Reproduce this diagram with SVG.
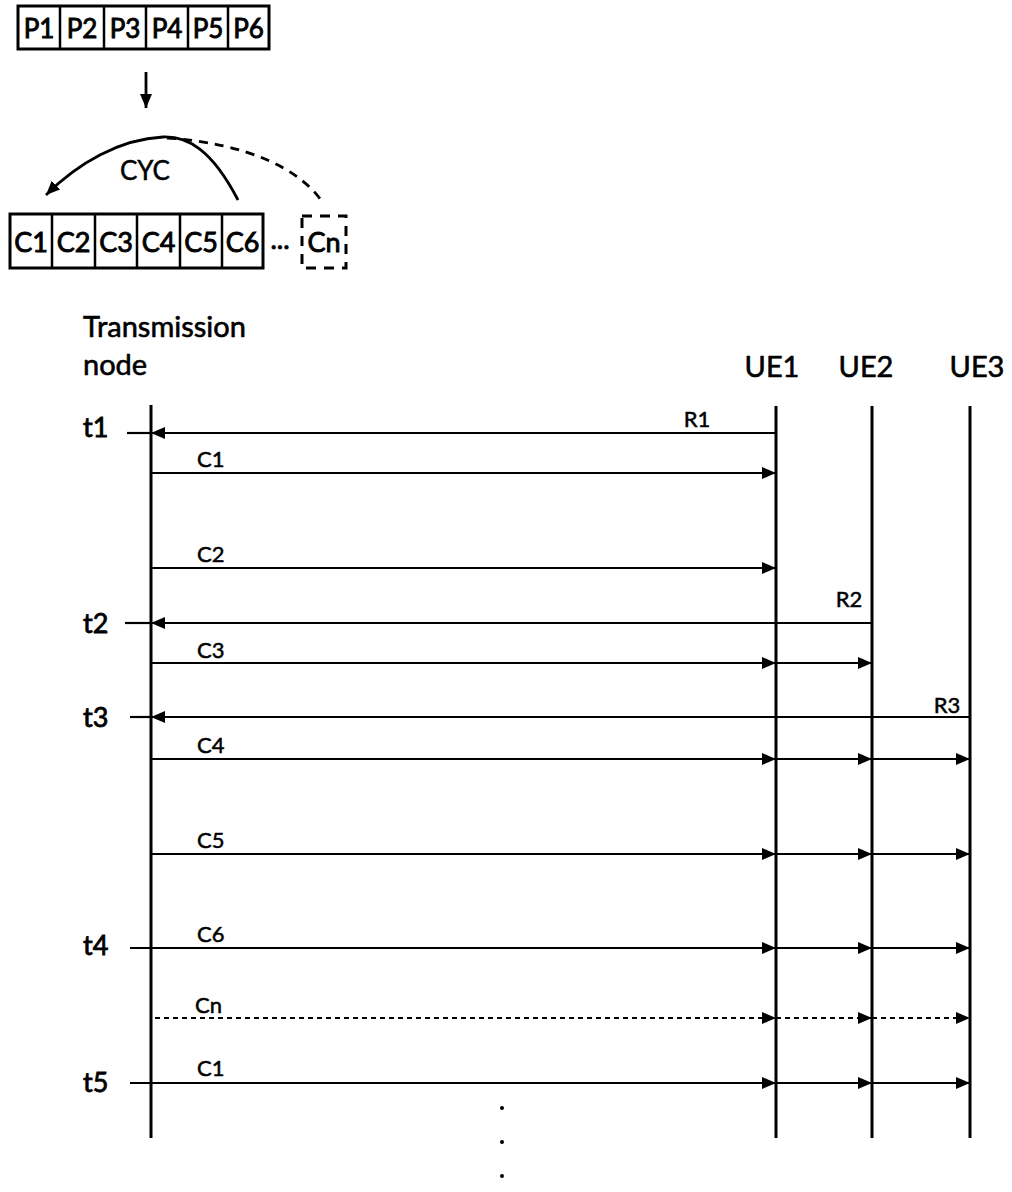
<svg xmlns="http://www.w3.org/2000/svg" width="1012" height="1192" viewBox="0 0 1012 1192">
<style>
text{font-family:Lato,"Open Sans","Liberation Sans",sans-serif;fill:#000;stroke:#000;stroke-width:0.6}
.box{fill:none;stroke:#000;stroke-width:2.5}
.bl{font-size:26px;text-anchor:middle;stroke-width:0.9}
.hd{font-size:29px}
.tl{font-size:27px;stroke-width:0.8}
.ml{font-size:22px;stroke-width:0.5}
.life{stroke:#000;stroke-width:3;fill:none}
.msg{stroke:#000;stroke-width:2.2;fill:none}
.dash{stroke-dasharray:5 4}
</style>
<defs>
<marker id="ah" markerUnits="userSpaceOnUse" markerWidth="14" markerHeight="12" refX="14" refY="6" orient="auto">
<path d="M0,0 L14,6 L0,12 z" fill="#000"/>
</marker>
</defs>
<g id="p-sequence">
<rect class="box" x="18" y="6" width="251" height="43" style="stroke-width:3"/>
<path class="box" d="M60,6V49M104,6V49M146,6V49M188,6V49M228,6V49"/>
<text class="bl" x="39" y="38">P1</text>
<text class="bl" x="82" y="38">P2</text>
<text class="bl" x="125" y="38">P3</text>
<text class="bl" x="167" y="38">P4</text>
<text class="bl" x="208" y="38">P5</text>
<text class="bl" x="248.5" y="38">P6</text>
</g>
<g id="c-sequence">
<rect class="box" x="10" y="214" width="253" height="54" style="stroke-width:3"/>
<path class="box" d="M52,214V268M95,214V268M137,214V268M180,214V268M222,214V268"/>
<text class="bl" x="31" y="252" style="font-size:27px">C1</text>
<text class="bl" x="73.5" y="252" style="font-size:27px">C2</text>
<text class="bl" x="116" y="252" style="font-size:27px">C3</text>
<text class="bl" x="158.5" y="252" style="font-size:27px">C4</text>
<text class="bl" x="201" y="252" style="font-size:27px">C5</text>
<text class="bl" x="242.5" y="252" style="font-size:27px">C6</text>
<text class="bl" x="280" y="249" style="font-size:27px">...</text>
</g>
<g id="cn-box">
<rect x="302" y="216" width="44" height="52" fill="none" stroke="#000" stroke-width="3" stroke-dasharray="10 8"/>
<text class="bl" x="324" y="252" style="font-size:27px">Cn</text>
</g>
<g id="transmission-node">
<text class="hd" x="83" y="337">Transmission</text>
<text class="hd" x="83" y="375">node</text>
<line class="life" x1="151" y1="405" x2="151" y2="1138"/>
</g>
<g id="ue1">
<text class="hd" x="772" y="377" text-anchor="middle">UE1</text>
<line class="life" x1="776" y1="406" x2="776" y2="1138"/>
</g>
<g id="ue2">
<text class="hd" x="866" y="377" text-anchor="middle">UE2</text>
<line class="life" x1="872" y1="406" x2="872" y2="1138"/>
</g>
<g id="ue3">
<text class="hd" x="977" y="377" text-anchor="middle">UE3</text>
<line class="life" x1="970" y1="406" x2="970" y2="1138"/>
</g>
<g id="time-labels">
<text class="tl" x="83" y="437">t1</text>
<text class="tl" x="83" y="633">t2</text>
<text class="tl" x="83" y="727">t3</text>
<text class="tl" x="83" y="955">t4</text>
<text class="tl" x="83" y="1092">t5</text>
</g>
<g id="connectors">
<line x1="146" y1="72" x2="146" y2="108" class="msg" style="stroke-width:2.8" marker-end="url(#ah)"/>
<path class="msg" style="stroke-width:2.8" d="M238,200 C212,150 188,136 163,137 C120,139 78,163 46,195" marker-end="url(#ah)"/>
<path class="msg" style="stroke-width:2.8;stroke-dasharray:9 7" d="M167,138 C245,143 300,168 323,203"/>
<text class="ml" x="145" y="180" text-anchor="middle" style="font-size:26px">CYC</text>

<line class="msg" x1="127" y1="433" x2="151" y2="433"/>
<line class="msg" x1="776" y1="433" x2="151" y2="433" marker-end="url(#ah)"/>
<text class="ml" x="697" y="427" text-anchor="middle">R1</text>

<line class="msg" x1="151" y1="473" x2="776" y2="473" marker-end="url(#ah)"/>
<text class="ml" x="197" y="467">C1</text>

<line class="msg" x1="151" y1="568" x2="776" y2="568" marker-end="url(#ah)"/>
<text class="ml" x="197" y="562">C2</text>

<line class="msg" x1="125" y1="623" x2="151" y2="623"/>
<line class="msg" x1="872" y1="623" x2="151" y2="623" marker-end="url(#ah)"/>
<text class="ml" x="849" y="607" text-anchor="middle">R2</text>

<line class="msg" x1="151" y1="663" x2="776" y2="663" marker-end="url(#ah)"/>
<line class="msg" x1="776" y1="663" x2="872" y2="663" marker-end="url(#ah)"/>
<text class="ml" x="197" y="658">C3</text>

<line class="msg" x1="130" y1="717" x2="151" y2="717"/>
<line class="msg" x1="970" y1="717" x2="151" y2="717" marker-end="url(#ah)"/>
<text class="ml" x="947" y="713" text-anchor="middle">R3</text>

<line class="msg" x1="151" y1="759" x2="776" y2="759" marker-end="url(#ah)"/>
<line class="msg" x1="776" y1="759" x2="872" y2="759" marker-end="url(#ah)"/>
<line class="msg" x1="872" y1="759" x2="970" y2="759" marker-end="url(#ah)"/>
<text class="ml" x="197" y="753">C4</text>

<line class="msg" x1="151" y1="854" x2="776" y2="854" marker-end="url(#ah)"/>
<line class="msg" x1="776" y1="854" x2="872" y2="854" marker-end="url(#ah)"/>
<line class="msg" x1="872" y1="854" x2="970" y2="854" marker-end="url(#ah)"/>
<text class="ml" x="197" y="848">C5</text>

<line class="msg" x1="130" y1="948" x2="776" y2="948" marker-end="url(#ah)"/>
<line class="msg" x1="776" y1="948" x2="872" y2="948" marker-end="url(#ah)"/>
<line class="msg" x1="872" y1="948" x2="970" y2="948" marker-end="url(#ah)"/>
<text class="ml" x="197" y="942">C6</text>

<line class="msg dash" x1="155" y1="1018" x2="776" y2="1018" marker-end="url(#ah)"/>
<line class="msg dash" x1="776" y1="1018" x2="872" y2="1018" marker-end="url(#ah)"/>
<line class="msg dash" x1="872" y1="1018" x2="970" y2="1018" marker-end="url(#ah)"/>
<text class="ml" x="195" y="1013">Cn</text>

<line class="msg" x1="130" y1="1083" x2="776" y2="1083" marker-end="url(#ah)"/>
<line class="msg" x1="776" y1="1083" x2="872" y2="1083" marker-end="url(#ah)"/>
<line class="msg" x1="872" y1="1083" x2="970" y2="1083" marker-end="url(#ah)"/>
<text class="ml" x="197" y="1076">C1</text>
</g>
<g id="continuation-dots" fill="#000">
<circle cx="502" cy="1108" r="2"/>
<circle cx="502" cy="1142" r="2"/>
<circle cx="502" cy="1176" r="2"/>
</g>
</svg>
